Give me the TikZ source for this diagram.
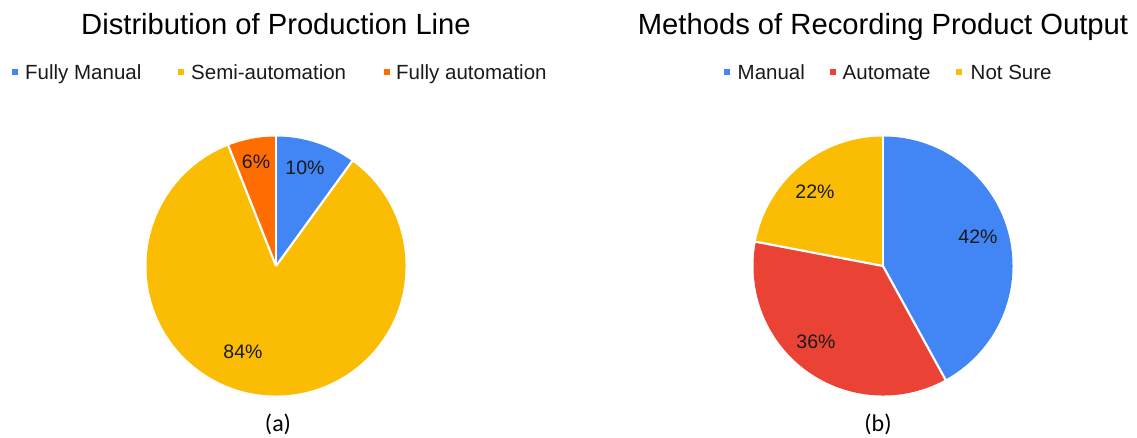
\documentclass[tikz,border=0pt]{standalone}
\usepackage{fontspec}
\usetikzlibrary{calc}
\setmainfont{Liberation Sans}
\newfontfamily\capfont{Carlito}
\definecolor{gblue}{HTML}{4285F4}
\definecolor{gyellow}{HTML}{FBBC04}
\definecolor{gorange}{HTML}{FF6D01}
\definecolor{gred}{HTML}{EA4335}
\definecolor{txt}{HTML}{1A1A1A}
\begin{document}
\begin{tikzpicture}[x=1pt,y=1pt,
  ttl/.style={anchor=base,inner sep=0pt,text=black,font=\fontsize{29.2}{34}\selectfont},
  legsq/.style={minimum size=6pt,inner sep=0pt,draw=none},
  legtxt/.style={anchor=base west,inner sep=0pt,text=txt,font=\fontsize{20.5}{24}\selectfont},
  pct/.style={inner sep=0pt,text=txt,font=\fontsize{19.5}{23}\selectfont},
  sep/.style={draw=white,line width=2.2pt},
  capt/.style={inner sep=0pt,text=black,font=\capfont\fontsize{24}{28}\selectfont}]
\useasboundingbox (0,0) rectangle (1137,437);
\def\R{129.5}

% ---------- (a) Distribution of Production Line ----------
\coordinate (ca) at (276,171);
\fill[gblue]   (ca) -- ++(90:\R) arc[start angle=90, end angle=54, radius=\R] -- cycle;
\fill[gyellow] (ca) -- ++(54:\R) arc[start angle=54, end angle=-248.4, radius=\R] -- cycle;
\fill[gorange] (ca) -- ++(111.6:\R) arc[start angle=111.6, end angle=90, radius=\R] -- cycle;
\coordinate (a1) at ($(ca)+(90:\R+1)$);
\coordinate (a2) at ($(ca)+(54:\R+1)$);
\coordinate (a3) at ($(ca)+(111.6:\R+1)$);
\draw[sep] (ca) -- (a1);
\draw[sep] (ca) -- (a2);
\draw[sep] (ca) -- (a3);
\node[pct] (pa1) at (305,269) {10\%};
\node[pct] (pa2) at (256,275) {6\%};
\node[pct] (pa3) at (243,85) {84\%};

\node[ttl] (ta) at (276,402.5) {Distribution of Production Line};
\node[legsq,fill=gblue]   (la1s) at (15,365) {};
\node[legtxt] (la1) at (25,357) {Fully Manual};
\node[legsq,fill=gyellow] (la2s) at (181,365) {};
\node[legtxt] (la2) at (191,357) {Semi-automation};
\node[legsq,fill=gorange] (la3s) at (387,365) {};
\node[legtxt] (la3) at (396,357) {Fully automation};
\node[capt] (capa) at (278,13) {(a)};

% ---------- (b) Methods of Recording Product Output ----------
\coordinate (cb) at (883,171);
\fill[gblue]   (cb) -- ++(90:\R) arc[start angle=90, end angle=-61.2, radius=\R] -- cycle;
\fill[gred]    (cb) -- ++(-61.2:\R) arc[start angle=-61.2, end angle=-190.8, radius=\R] -- cycle;
\fill[gyellow] (cb) -- ++(169.2:\R) arc[start angle=169.2, end angle=90, radius=\R] -- cycle;
\coordinate (b1) at ($(cb)+(90:\R+1)$);
\coordinate (b2) at ($(cb)+(-61.2:\R+1)$);
\coordinate (b3) at ($(cb)+(169.2:\R+1)$);
\draw[sep] (cb) -- (b1);
\draw[sep] (cb) -- (b2);
\draw[sep] (cb) -- (b3);
\node[pct] (pb1) at (978,200) {42\%};
\node[pct] (pb2) at (816,95) {36\%};
\node[pct] (pb3) at (815,245) {22\%};

\node[ttl] (tb) at (883,402.5) {Methods of Recording Product Output};
\node[legsq,fill=gblue]   (lb1s) at (727,365) {};
\node[legtxt] (lb1) at (737.5,357) {Manual};
\node[legsq,fill=gred]    (lb2s) at (833,365) {};
\node[legtxt] (lb2) at (842.5,357) {Automate};
\node[legsq,fill=gyellow] (lb3s) at (959,365) {};
\node[legtxt] (lb3) at (970.5,357) {Not Sure};
\node[capt] (capb) at (878,13) {(b)};
\end{tikzpicture}
\end{document}
